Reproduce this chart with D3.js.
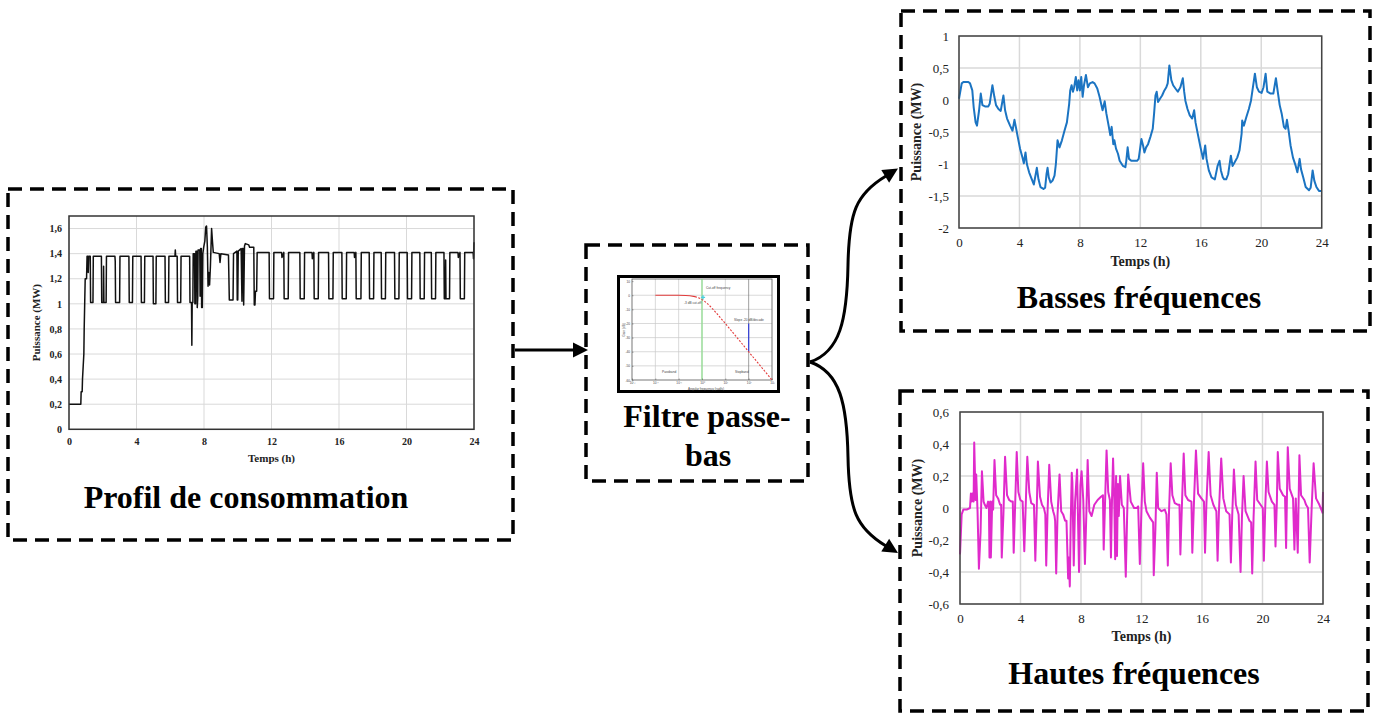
<!DOCTYPE html>
<html><head><meta charset="utf-8">
<script src="https://cdn.jsdelivr.net/npm/d3@7"></script>
<style>
body{margin:0;background:#fff;}
svg{display:block;font-family:"Liberation Serif","Times New Roman",serif;}
</style></head><body>
<svg id="c" width="1381" height="715"></svg>
<script>
// ---------- DATA ----------
const hourTicks = [0,4,8,12,16,20,24];
const hourLabels = ["0","4","8","12","16","20","24"];

const profilTicks = [0,0.2,0.4,0.6,0.8,1,1.2,1.4,1.6];
const profilTickLabels = ["0","0,2","0,4","0,6","0,8","1","1,2","1,4","1,6"];
const basseTicks = [-2,-1.5,-1,-0.5,0,0.5,1];
const basseTickLabels = ["-2","-1,5","-1","-0,5","0","0,5","1"];
const hauteTicks = [-0.6,-0.4,-0.2,0,0.2,0.4,0.6];
const hauteTickLabels = ["-0,6","-0,4","-0,2","0","0,2","0,4","0,6"];

// Profil de consommation [h, MW]
const profil = [
[0,0.2],[0.7,0.2],[0.72,0.3],[0.78,0.3],[0.8,0.4],[0.84,0.5],[0.88,0.6],[0.9,0.8],[0.93,1.0],[0.96,1.2],[1.04,1.2],[1.07,1.38],[1.12,1.38],[1.14,1.25],[1.17,1.38],[1.26,1.38],[1.28,1.01],[1.42,1.01],[1.44,1.38],[1.92,1.38],[1.94,1.01],[2.04,1.01],[2.05,1.3],[2.07,1.01],[2.2,1.01],[2.22,1.38],[2.72,1.38],[2.74,1.34],[2.76,1.01],[3.0,1.01],[3.02,1.38],[3.55,1.38],[3.57,1.01],[3.76,1.01],[3.78,1.38],[4.27,1.38],[4.29,1.01],[4.47,1.01],[4.49,1.38],[4.98,1.38],[5.0,1.0],[5.15,1.0],[5.17,1.38],[5.69,1.38],[5.71,1.01],[5.9,1.01],[5.92,1.38],[6.28,1.38],[6.3,1.43],[6.32,1.38],[6.41,1.38],[6.43,1.01],[6.62,1.01],[6.64,1.38],[7.15,1.38],[7.17,1.01],[7.26,1.01],[7.28,0.67],[7.3,1.01],[7.34,1.01],[7.36,1.4],[7.44,1.4],[7.46,1.0],[7.5,1.0],[7.52,1.42],[7.58,1.42],[7.6,0.97],[7.63,1.05],[7.65,1.43],[7.75,1.43],[7.77,1.06],[7.8,1.44],[7.84,1.44],[7.86,0.97],[7.9,0.97],[7.93,1.4],[7.98,1.45],[8.05,1.5],[8.1,1.61],[8.15,1.62],[8.2,1.45],[8.24,1.14],[8.28,1.25],[8.33,1.15],[8.38,1.3],[8.45,1.6],[8.5,1.5],[8.55,1.41],[8.9,1.4],[8.95,1.33],[9.0,1.4],[9.45,1.39],[9.5,1.03],[9.72,1.03],[9.75,1.4],[9.95,1.42],[9.97,1.03],[10.0,1.03],[10.03,1.42],[10.2,1.44],[10.25,1.02],[10.28,1.44],[10.33,1.44],[10.35,0.99],[10.4,1.46],[10.45,1.48],[10.65,1.47],[10.7,1.45],[10.95,1.45],[10.98,0.99],[11.02,0.99],[11.05,1.1],[11.12,1.1],[11.15,1.41],
[11.86,1.41],[11.88,1.04],[12.12,1.04],[12.14,1.41],[12.6,1.41],[12.62,1.37],[12.73,1.41],[12.75,1.04],[12.99,1.04],[13.01,1.41],[13.68,1.41],[13.7,1.04],[13.94,1.04],[13.96,1.41],[14.4,1.41],[14.42,1.36],[14.51,1.41],[14.53,1.04],[14.77,1.04],[14.79,1.41],[15.38,1.41],[15.4,1.04],[15.64,1.04],[15.66,1.41],[16.17,1.41],[16.19,1.04],[16.43,1.04],[16.45,1.41],[16.9,1.41],[16.92,1.37],[17.0,1.41],[17.02,1.04],[17.3,1.04],[17.32,1.41],[17.79,1.41],[17.81,1.04],[18.05,1.04],[18.07,1.41],[18.5,1.41],[18.52,1.04],[18.75,1.04],[18.77,1.41],[19.29,1.41],[19.31,1.04],[19.55,1.04],[19.57,1.41],[20.04,1.41],[20.06,1.04],[20.3,1.04],[20.32,1.41],[20.79,1.41],[20.81,1.04],[21.05,1.04],[21.07,1.41],[21.47,1.41],[21.49,1.04],[21.72,1.04],[21.74,1.41],[22.22,1.41],[22.24,1.04],[22.3,1.04],[22.32,1.35],[22.34,1.04],[22.55,1.04],[22.57,1.41],[23.05,1.41],[23.07,1.37],[23.17,1.41],[23.19,1.04],[23.43,1.04],[23.45,1.41],[23.95,1.41],[23.97,1.36],[24,1.49]
];

// Basses fréquences [h, MW]
const basses = [
[0,0.02],[0.18,0.26],[0.29,0.28],[0.62,0.28],[0.73,0.26],[0.88,0.15],[0.97,-0.11],[1.10,-0.35],[1.19,-0.40],[1.33,-0.16],[1.44,0.10],[1.55,-0.08],[1.72,-0.10],[1.94,-0.10],[2.03,-0.06],[2.21,0.23],[2.34,0.05],[2.45,-0.08],[2.61,-0.14],[2.76,-0.17],[2.94,0.07],[3.05,-0.16],[3.18,-0.29],[3.38,-0.40],[3.54,-0.48],[3.67,-0.31],[3.76,-0.42],[3.89,-0.58],[4.04,-0.76],[4.20,-0.90],[4.29,-0.99],[4.40,-0.82],[4.49,-1.00],[4.64,-1.13],[4.82,-1.24],[4.95,-1.32],[5.06,-1.18],[5.15,-1.06],[5.26,-1.24],[5.39,-1.36],[5.59,-1.39],[5.70,-1.37],[5.79,-1.16],[5.86,-1.06],[5.94,-1.21],[6.06,-1.29],[6.19,-1.26],[6.32,-1.18],[6.41,-1.00],[6.52,-0.63],[6.65,-0.74],[6.81,-0.63],[6.98,-0.48],[7.14,-0.35],[7.29,-0.06],[7.36,0.15],[7.45,0.23],[7.54,0.13],[7.62,0.20],[7.73,0.36],[7.82,0.15],[7.91,0.31],[8.00,0.15],[8.09,0.36],[8.18,0.05],[8.27,0.23],[8.40,0.39],[8.53,0.20],[8.66,0.26],[8.84,0.28],[8.97,0.26],[9.15,0.18],[9.30,0.05],[9.50,-0.16],[9.64,-0.02],[9.75,-0.21],[9.90,-0.40],[10.01,-0.55],[10.10,-0.42],[10.21,-0.69],[10.28,-0.63],[10.39,-0.76],[10.52,-0.84],[10.63,-0.95],[10.85,-1.03],[11.01,-1.05],[11.07,-0.95],[11.16,-0.74],[11.25,-0.92],[11.40,-0.95],[11.78,-0.95],[11.89,-0.92],[12.07,-0.61],[12.18,-0.71],[12.27,-0.82],[12.38,-0.74],[12.51,-0.69],[12.66,-0.58],[12.82,-0.45],[12.91,-0.21],[13.00,0.07],[13.08,0.13],[13.17,-0.03],[13.30,0.02],[13.44,0.07],[13.59,0.15],[13.72,0.20],[13.81,0.26],[13.92,0.54],[14.05,0.31],[14.17,0.23],[14.32,0.18],[14.48,0.13],[14.65,0.20],[14.81,0.34],[14.90,0.13],[14.98,-0.01],[15.12,-0.14],[15.27,-0.24],[15.43,-0.29],[15.56,-0.16],[15.65,-0.35],[15.80,-0.53],[15.98,-0.74],[16.15,-0.92],[16.29,-0.71],[16.38,-0.92],[16.53,-1.10],[16.71,-1.21],[16.93,-1.24],[17.11,-1.03],[17.24,-0.95],[17.33,-1.10],[17.46,-1.21],[17.55,-1.24],[17.68,-1.24],[17.81,-1.16],[17.99,-0.87],[18.10,-1.03],[18.25,-0.97],[18.41,-0.90],[18.56,-0.79],[18.70,-0.53],[18.74,-0.32],[18.85,-0.40],[19.01,-0.27],[19.18,-0.14],[19.32,-0.01],[19.45,0.20],[19.58,0.41],[19.71,0.20],[19.85,0.13],[20.02,0.11],[20.15,0.20],[20.29,0.41],[20.40,0.13],[20.62,0.10],[20.80,0.10],[20.97,0.34],[21.08,0.15],[21.22,-0.08],[21.35,-0.21],[21.50,-0.42],[21.61,-0.45],[21.70,-0.31],[21.81,-0.48],[21.94,-0.71],[22.10,-0.90],[22.28,-1.03],[22.39,-1.13],[22.54,-0.92],[22.63,-1.08],[22.78,-1.21],[22.94,-1.36],[23.16,-1.41],[23.27,-1.37],[23.40,-1.10],[23.51,-1.26],[23.65,-1.36],[23.82,-1.42],[24.00,-1.42]
];

// Hautes fréquences [h, MW]
const hautes = [
[0,-0.29],[0.11,-0.04],[0.22,-0.01],[0.44,-0.01],[0.66,0],[0.72,0.09],[0.77,0.04],[0.83,0.09],[0.90,0.04],[0.94,0.41],[1.03,0.05],[1.07,0.21],[1.16,-0.02],[1.25,-0.38],[1.36,-0.15],[1.45,0.23],[1.56,0.04],[1.64,0.02],[1.75,0],[1.86,0.04],[1.91,0.02],[1.95,-0.31],[2.00,0.04],[2.04,-0.31],[2.13,0.04],[2.19,-0.01],[2.28,0.30],[2.39,0.08],[2.52,0.06],[2.65,0.02],[2.72,0.02],[2.76,-0.31],[2.87,-0.04],[2.98,0.32],[3.11,0.08],[3.25,0.05],[3.40,0.04],[3.49,0.04],[3.55,-0.28],[3.64,0],[3.75,0.35],[3.86,0.10],[3.99,0.05],[4.14,0.04],[4.25,-0.27],[4.34,0],[4.45,0.32],[4.58,0.10],[4.71,0.03],[4.89,0.02],[4.98,-0.33],[5.07,-0.02],[5.15,0.29],[5.29,0.07],[5.42,0.02],[5.55,0],[5.64,-0.04],[5.70,-0.36],[5.79,-0.02],[5.90,0.27],[6.03,0.04],[6.16,-0.02],[6.25,-0.05],[6.29,-0.08],[6.36,-0.41],[6.45,-0.04],[6.58,0.21],[6.69,-0.02],[6.82,-0.04],[6.95,-0.08],[7.04,-0.08],[7.15,-0.44],[7.19,-0.31],[7.26,-0.49],[7.32,-0.09],[7.39,0.22],[7.43,0.16],[7.52,-0.36],[7.61,0.04],[7.74,0.24],[7.87,-0.40],[7.96,0.14],[8.04,0.23],[8.15,0.05],[8.26,-0.35],[8.35,-0.05],[8.44,0.30],[8.55,-0.02],[8.7,-0.05],[8.88,0.02],[9.10,0.05],[9.32,0.07],[9.45,0.08],[9.50,-0.26],[9.58,0.0],[9.69,0.36],[9.80,0.1],[9.91,0.05],[9.98,-0.31],[10.05,0.05],[10.12,0.31],[10.2,0.05],[10.26,-0.32],[10.32,0.2],[10.38,-0.3],[10.44,0.15],[10.5,-0.05],[10.58,0.2],[10.7,0.02],[10.83,0.0],[10.96,-0.43],[11.05,-0.05],[11.12,0.21],[11.29,0.04],[11.51,0.0],[11.69,0.0],[11.78,0.01],
[11.89,-0.35],[12.00,0.00],[12.11,0.28],[12.22,0.04],[12.33,-0.02],[12.55,-0.06],[12.77,-0.09],[12.81,-0.42],[12.92,-0.13],[13.01,0.22],[13.10,0.00],[13.32,-0.02],[13.54,-0.01],[13.65,-0.04],[13.74,-0.36],[13.82,-0.02],[13.93,0.28],[14.04,0.08],[14.20,0.03],[14.42,0.02],[14.51,0.02],[14.57,-0.29],[14.68,0.04],[14.79,0.34],[14.90,0.08],[15.08,0.05],[15.30,0.04],[15.36,-0.28],[15.47,0.04],[15.60,0.36],[15.74,0.09],[15.96,0.06],[16.13,0.04],[16.20,-0.28],[16.29,0.02],[16.44,0.35],[16.57,0.08],[16.75,0.02],[16.95,-0.02],[17.03,-0.33],[17.12,-0.02],[17.27,0.31],[17.41,0.06],[17.60,-0.02],[17.82,-0.04],[17.91,-0.34],[18.00,-0.04],[18.11,0.24],[18.24,0.02],[18.42,-0.04],[18.55,-0.40],[18.64,-0.06],[18.75,0.20],[18.88,-0.02],[19.14,-0.08],[19.25,-0.09],[19.32,-0.41],[19.41,-0.06],[19.54,0.29],[19.65,0.05],[19.87,0.02],[20.02,0.00],[20.09,-0.33],[20.18,0.00],[20.29,0.29],[20.40,0.10],[20.62,0.04],[20.79,0.02],[20.86,-0.24],[20.95,0.04],[21.01,0.35],[21.14,0.12],[21.36,0.08],[21.49,0.07],[21.56,-0.25],[21.67,0.38],[21.80,0.12],[22.02,0.06],[22.11,-0.26],[22.20,0.06],[22.33,-0.28],[22.44,0.33],[22.55,0.08],[22.77,0.05],[22.88,0.02],[23.01,0.00],[23.12,-0.34],[23.25,0.00],[23.38,0.28],[23.54,0.06],[23.76,0.02],[23.93,-0.02],[23.97,-0.03],[24.0,0.10]
];

// Bode plot thumbnail of the low-pass filter
const bodeFreq = [0.01,0.03,0.1,0.2,0.3,0.5,0.7,1,1.5,2,3,5,10,30,100,300,1000];
const bodeGain = [0,0,-0.04,-0.17,-0.37,-0.97,-1.7,-3,-5.1,-7,-10,-14.2,-20,-29.5,-40,-49.5,-60];
const bodeDecades = [0.001,0.01,0.1,1,10,100,1000];
const bodeDecadeLabels = ["10⁻³","10⁻²","10⁻¹","10⁰","10¹","10²","10³"];
const bodeDbTicks = [10,0,-10,-20,-30,-40,-50,-60];

// ---------- DRAW ----------
const svg = d3.select("#c");

function dashedBox(x,y,w,h){
  svg.append("rect").attr("x",x).attr("y",y).attr("width",w).attr("height",h)
    .attr("fill","none").attr("stroke","#000").attr("stroke-width",3.5)
    .attr("stroke-dasharray","14,8");
}
dashedBox(8,189,505,351);
dashedBox(586,245,222,236);
dashedBox(901,11,469,320);
dashedBox(900,391,468,320);

function chart(o){
  const x = d3.scaleLinear().domain([0,24]).range([o.x0,o.x1]);
  const y = d3.scaleLinear().domain(o.domain).range([o.y0,o.y1]);
  const g = svg.append("g");
  // grid
  g.append("g").selectAll("line").data(o.ticks).join("line")
    .attr("x1",o.x0).attr("x2",o.x1).attr("y1",d=>y(d)).attr("y2",d=>y(d))
    .attr("stroke","#d9d9d9").attr("stroke-width",o.gw);
  g.append("g").selectAll("line").data(hourTicks).join("line")
    .attr("y1",o.y0).attr("y2",o.y1).attr("x1",d=>x(d)).attr("x2",d=>x(d))
    .attr("stroke","#d9d9d9").attr("stroke-width",o.gw);
  // line
  g.append("path").datum(o.data)
    .attr("fill","none").attr("stroke",o.color).attr("stroke-width",o.lw)
    .attr("stroke-linejoin","round")
    .attr("d",d3.line().x(d=>x(d[0])).y(d=>y(d[1])));
  // frame
  g.append("rect").attr("x",o.x0).attr("y",o.y1).attr("width",o.x1-o.x0).attr("height",o.y0-o.y1)
    .attr("fill","none").attr("stroke",o.frame).attr("stroke-width",o.fw);
  // axes
  const ax = g.append("g").attr("transform",`translate(0,${o.y0})`)
    .call(d3.axisBottom(x).tickValues(hourTicks).tickFormat((d,i)=>hourLabels[i]).tickSize(0).tickPadding(o.xpad));
  const ay = g.append("g").attr("transform",`translate(${o.x0},0)`)
    .call(d3.axisLeft(y).tickValues(o.ticks).tickFormat((d,i)=>o.labels[i]).tickSize(0).tickPadding(o.ypad));
  [ax,ay].forEach(a=>{
    a.select(".domain").remove();
    a.selectAll("text").attr("font-family","Liberation Serif, serif").attr("font-size",o.fs)
      .attr("font-weight",o.tickBold?"bold":"normal").attr("fill","#222");
  });
  g.append("text").attr("x",(o.x0+o.x1)/2).attr("y",o.xtY).attr("text-anchor","middle")
    .attr("font-size",o.tfs).attr("font-weight","bold").attr("fill","#222").text("Temps (h)");
  g.append("text").attr("transform",`translate(${o.ytX},${(o.y0+o.y1)/2}) rotate(-90)`)
    .attr("text-anchor","middle").attr("font-size",o.tfs).attr("font-weight","bold").attr("fill","#222")
    .text("Puissance (MW)");
}

chart({x0:69,x1:474,y0:429.3,y1:216,domain:[0,1.7],ticks:profilTicks,labels:profilTickLabels,
  data:profil,color:"#111",lw:1.5,gw:1,frame:"#333",fw:1.5,fs:10,tickBold:true,xpad:9,ypad:7,
  tfs:11,xtY:462,ytX:40});
chart({x0:959,x1:1321.7,y0:228,y1:36,domain:[-2,1],ticks:basseTicks,labels:basseTickLabels,
  data:basses,color:"#1b74c2",lw:2,gw:1.5,frame:"#444",fw:1.5,fs:13,tickBold:false,xpad:10,ypad:10,
  tfs:14,xtY:266,ytX:921});
chart({x0:960,x1:1323,y0:604,y1:412,domain:[-0.6,0.6],ticks:hauteTicks,labels:hauteTickLabels,
  data:hautes,color:"#e02acb",lw:2,gw:1.5,frame:"#444",fw:1.5,fs:13,tickBold:false,xpad:10,ypad:11,
  tfs:14,xtY:641,ytX:922});

// titles
function title(txt,x,y){
  svg.append("text").attr("x",x).attr("y",y).attr("text-anchor","middle")
    .attr("font-size",32).attr("font-weight","bold").attr("fill","#000").text(txt);
}
title("Profil de consommation",246,508);
title("Basses fréquences",1139,308);
title("Hautes fréquences",1134,684);
title("Filtre passe-",707,427);
title("bas",708,466);

// Bode thumbnail
(function(){
  const g = svg.append("g");
  const x = d3.scaleLog().domain([0.001,1000]).range([632,772]);
  const y = d3.scaleLinear().domain([-60,11.5]).range([380,279]);
  g.append("rect").attr("x",618.5).attr("y",276.5).attr("width",160).attr("height",115)
    .attr("fill","#fff").attr("stroke","#000").attr("stroke-width",3);
  g.append("g").selectAll("line").data(bodeDbTicks.slice(1,-1)).join("line")
    .attr("x1",632).attr("x2",772).attr("y1",d=>y(d)).attr("y2",d=>y(d))
    .attr("stroke","#c8c8c8").attr("stroke-width",0.7);
  g.append("g").selectAll("line").data(bodeDecades.slice(1,-1)).join("line")
    .attr("y1",279).attr("y2",380).attr("x1",d=>x(d)).attr("x2",d=>x(d))
    .attr("stroke",d=>d===100?"#777":"#c8c8c8").attr("stroke-width",0.7);
  g.append("rect").attr("x",632).attr("y",279).attr("width",140).attr("height",101)
    .attr("fill","none").attr("stroke","#555").attr("stroke-width",0.8);
  g.append("line").attr("x1",x(1)).attr("x2",x(1)).attr("y1",279).attr("y2",380)
    .attr("stroke","#8be08b").attr("stroke-width",1.2);
  g.append("line").attr("x1",x(100)).attr("x2",x(100)).attr("y1",y(-20)).attr("y2",y(-40))
    .attr("stroke","#3440d8").attr("stroke-width",1.2);
  const pts = bodeFreq.map((f,i)=>[f,bodeGain[i]]);
  g.append("path").datum(pts.slice(0,6)).attr("fill","none").attr("stroke","#e23b3b").attr("stroke-width",1.1)
    .attr("d",d3.line().x(d=>x(d[0])).y(d=>y(d[1])));
  g.append("path").datum(pts.slice(5)).attr("fill","none").attr("stroke","#e23b3b").attr("stroke-width",1.1)
    .attr("stroke-dasharray","2,1.5").attr("d",d3.line().x(d=>x(d[0])).y(d=>y(d[1])));
  g.append("path").attr("d",d3.symbol(d3.symbolCross,10)()).attr("transform",`translate(${x(1.1)},${y(-1.5)})`)
    .attr("fill","#4dd0e0");
  const ax = g.append("g").attr("transform","translate(0,380)")
    .call(d3.axisBottom(x).tickValues(bodeDecades).tickFormat((d,i)=>bodeDecadeLabels[i]).tickSize(-1.5).tickPadding(1.5));
  const ay = g.append("g").attr("transform","translate(632,0)")
    .call(d3.axisLeft(y).tickValues(bodeDbTicks).tickFormat(d=>d).tickSize(-1.5).tickPadding(2));
  [ax,ay].forEach(a=>{a.select(".domain").remove();
    a.selectAll("text").attr("font-size",3.2).attr("font-family","Liberation Sans, sans-serif").attr("fill","#444");
    a.selectAll("line").attr("stroke","#555").attr("stroke-width",0.5);});
  const small = (t,xx,yy)=>g.append("text").attr("x",xx).attr("y",yy).attr("font-size",3.2)
    .attr("font-family","Liberation Sans, sans-serif").attr("fill","#444").text(t);
  small("Cut-off frequency",706,289);
  small("-3 dB cut-off",684,304);
  small("Slope -20 dB/decade",734,321);
  small("Passband",662,373);
  small("Stopband",735,373);
  small("Angular frequency (rad/s)",688,390);
  g.append("text").attr("transform","translate(625,330) rotate(-90)").attr("text-anchor","middle")
    .attr("font-size",3.2).attr("font-family","Liberation Sans, sans-serif").attr("fill","#444").text("Gain (dB)");
})();

// arrows
function head(tx,ty,ang){
  const L=15,W=7.5,c=Math.cos(ang),s=Math.sin(ang);
  const p=[[tx,ty],[tx-L*c-W*s,ty-L*s+W*c],[tx-L*c+W*s,ty-L*s-W*c]];
  svg.append("polygon").attr("points",p.map(q=>q.join(",")).join(" ")).attr("fill","#000");
}
svg.append("line").attr("x1",515).attr("x2",574).attr("y1",350).attr("y2",350)
  .attr("stroke","#000").attr("stroke-width",3);
head(588,350,0);
svg.append("path").attr("d","M810,362 C840,352 847,320 848,265 C849,212 856,194 886,176")
  .attr("fill","none").attr("stroke","#000").attr("stroke-width",3);
head(898,168.5,Math.atan2(-19,31));
svg.append("path").attr("d","M810,362 C840,372 847,404 848,457 C849,510 856,528 886,546")
  .attr("fill","none").attr("stroke","#000").attr("stroke-width",3);
head(898,553,Math.atan2(19,31));
</script>
</body></html>
